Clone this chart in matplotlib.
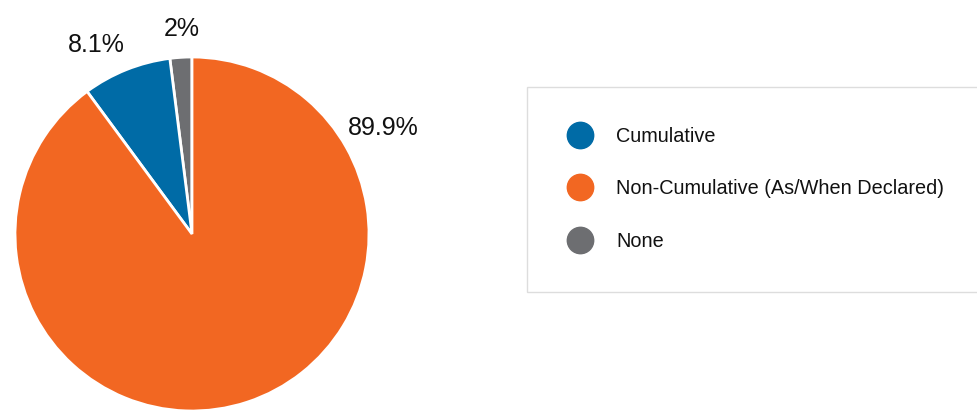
import matplotlib.pyplot as plt
from matplotlib.lines import Line2D
from matplotlib.patches import Rectangle

categories = ["Cumulative", "Non-Cumulative (As/When Declared)", "None"]
shares = [8.1, 89.9, 2.0]
share_labels = ["8.1%", "89.9%", "2%"]
colors = ["#006ba6", "#f26722", "#6d6e71"]

# drawn counterclockwise from 12 o'clock: None, Cumulative, Non-Cumulative
draw_order = [2, 0, 1]

# label positions relative to pie centre (radius units)
label_pos = {0: (-0.54, 1.07), 1: (1.08, 0.60), 2: (-0.06, 1.16)}

plt.rcParams["font.family"] = ["Liberation Sans", "DejaVu Sans"]

fig = plt.figure(figsize=(9.77, 4.12), dpi=100)

ax = fig.add_axes([15 / 977, 1 / 412, 354 / 977, 354 / 412])
ax.pie([shares[i] for i in draw_order],
       colors=[colors[i] for i in draw_order],
       startangle=90, counterclock=True,
       wedgeprops=dict(edgecolor="white", linewidth=2))
ax.set_xlim(-1, 1)
ax.set_ylim(-1, 1)
ax.set_aspect("equal")
ax.axis("off")

for i, (x, y) in label_pos.items():
    ax.text(x, y, share_labels[i], ha="center", va="center", fontsize=18,
            color="#111111", clip_on=False)

# legend box
box = Rectangle((527 / 977, (412 - 292) / 412), 460 / 977, 205 / 412,
                transform=fig.transFigure, facecolor="white",
                edgecolor="#dddddd", linewidth=1)
fig.patches.append(box)

handles = [Line2D([], [], marker="o", linestyle="none", markersize=19,
                  markerfacecolor=c, markeredgecolor=c) for c in colors]
leg = fig.legend(handles, categories, loc="upper left",
                 bbox_to_anchor=(559 / 977, (412 - 117) / 412),
                 frameon=False, fontsize=14.3, handletextpad=1.24,
                 labelspacing=1.68, borderpad=0, handlelength=1.14)
for t in leg.get_texts():
    t.set_color("#111111")

fig.savefig("out.png", dpi=100)
